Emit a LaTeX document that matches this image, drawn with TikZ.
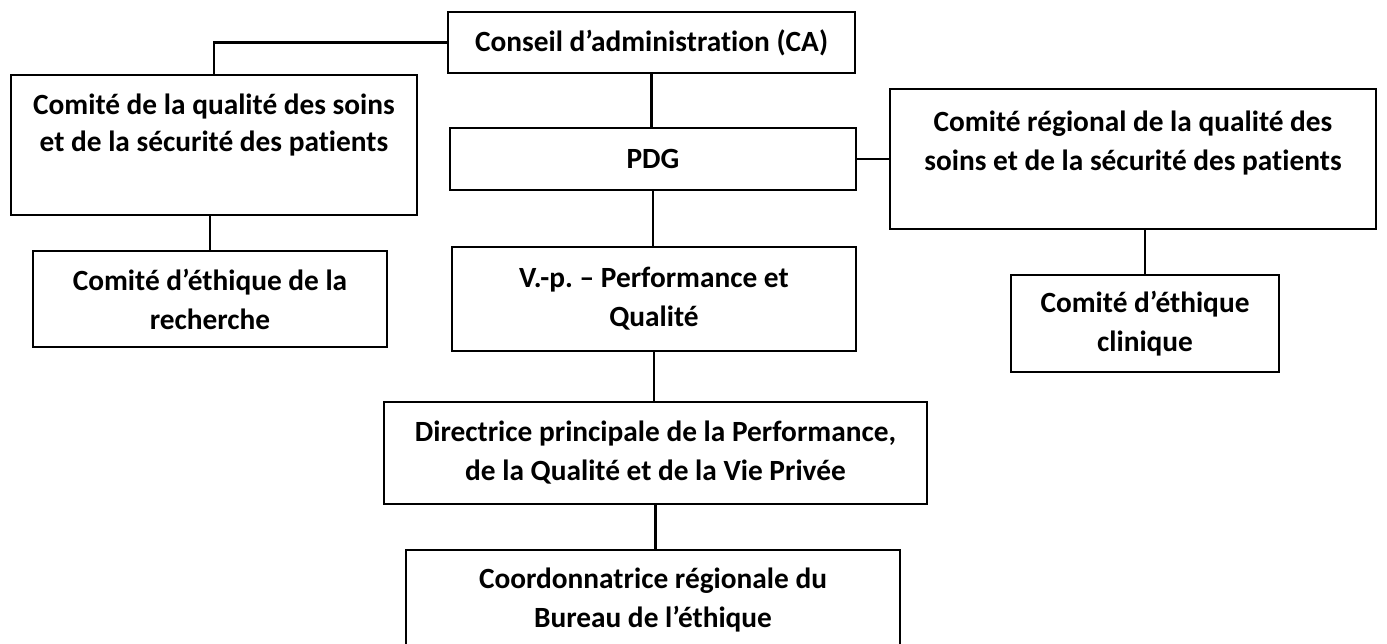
\documentclass[tikz,border=0pt]{standalone}
\usepackage{fontspec}
\setmainfont{Carlito}[Ligatures={NoCommon}]
\begin{document}
\frenchspacing
\begin{tikzpicture}[x=0.02cm,y=-0.02cm,
  bx/.style={draw, line width=1.5pt, inner sep=0pt, align=center},
  lbl/.style={inner sep=0pt, align=center},
  conn/.style={line width=1.4pt},
  font=\fontsize{16.7}{22.2}\selectfont\bfseries]
\useasboundingbox (0,0) rectangle (1387,643);
\node[bx, minimum width=8.14cm, minimum height=1.22cm] (CA) at (651.5,42.5) {Conseil d’administration (CA)};
\node[bx, minimum width=8.12cm, minimum height=2.80cm] (Qual) at (214,145) {};
\node[lbl, font=\fontsize{16.7}{20.5}\selectfont\bfseries] (QualT) at (214,125) {Comité de la qualité des soins\\et de la sécurité des patients};
\node[bx, minimum width=8.12cm, minimum height=1.24cm] (PDG) at (653,159) {PDG};
\node[bx, minimum width=9.72cm, minimum height=2.80cm] (Reg) at (1133,159) {};
\node[lbl] (RegT) at (1133,143.5) {Comité régional de la qualité des\\soins et de la sécurité des patients};
\node[bx, minimum width=7.08cm, minimum height=1.92cm] (Rech) at (210,299) {Comité d’éthique de la\\recherche};
\node[bx, minimum width=8.08cm, minimum height=2.08cm] (VP) at (654,299) {V.-p. – Performance et\\Qualité};
\node[bx, minimum width=5.36cm, minimum height=1.94cm] (Clin) at (1145,323.5) {Comité d’éthique\\clinique};
\node[bx, minimum width=10.86cm, minimum height=2.04cm] (Dir) at (655.5,453) {Directrice principale de la Performance,\\de la Qualité et de la Vie Privée};
\node[bx, minimum width=9.88cm, minimum height=2.00cm] (Coord) at (653,600) {Coordonnatrice régionale du\\Bureau de l’éthique};
\draw[conn] (CA.west) -| (Qual.north);
\draw[conn] (CA.south) -- (CA.south |- PDG.north);
\draw[conn] (PDG.east) -- (Reg.west);
\draw[conn] (Rech.north |- Qual.south) -- (Rech.north);
\draw[conn] (PDG.south) -- (PDG.south |- VP.north);
\draw[conn] (Clin.north |- Reg.south) -- (Clin.north);
\draw[conn] (VP.south) -- (VP.south |- Dir.north);
\draw[conn] (Dir.south) -- (Dir.south |- Coord.north);
\end{tikzpicture}
\end{document}
